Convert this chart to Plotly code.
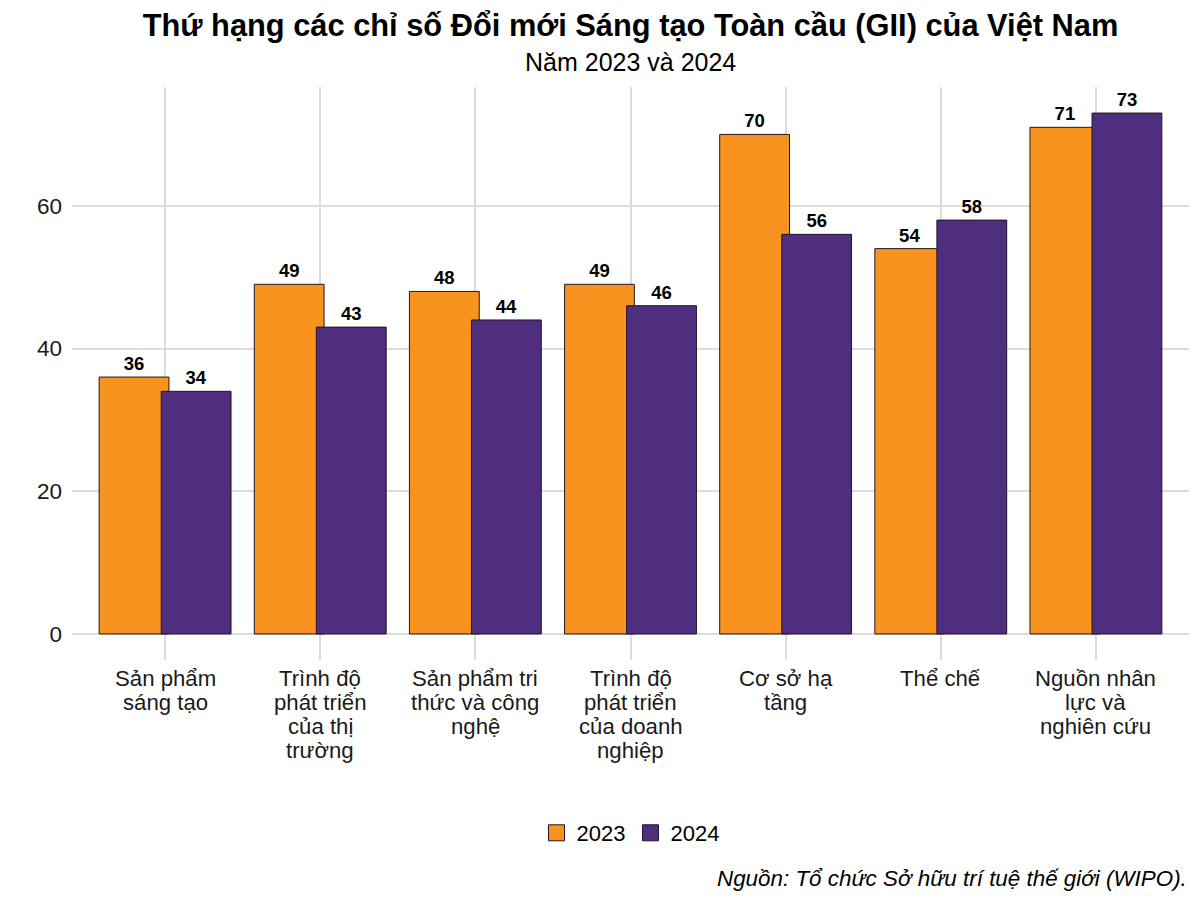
import plotly.graph_objects as go

categories = [
    "Sản phẩm sáng tạo",
    "Trình độ phát triển của thị trường",
    "Sản phẩm tri thức và công nghệ",
    "Trình độ phát triển của doanh nghiệp",
    "Cơ sở hạ tầng",
    "Thể chế",
    "Nguồn nhân lực và nghiên cứu",
]
category_lines = [
    ["Sản phẩm", "sáng tạo"],
    ["Trình độ", "phát triển", "của thị", "trường"],
    ["Sản phẩm tri", "thức và công", "nghệ"],
    ["Trình độ", "phát triển", "của doanh", "nghiệp"],
    ["Cơ sở hạ", "tầng"],
    ["Thể chế"],
    ["Nguồn nhân", "lực và", "nghiên cứu"],
]
values_2023 = [36, 49, 48, 49, 70, 54, 71]
values_2024 = [34, 43, 44, 46, 56, 58, 73]
series_names = ["2023", "2024"]
colors = ["#F7931E", "#4F2D7F"]
y_ticks = [0, 20, 40, 60]

FONT = "Liberation Sans, Arial, sans-serif"
# page body has an 8px margin, so figure coords = screen coords - 8
OFF = 8
L, R, T, B = 72 - OFF, 19, 87 - OFF, 900 - (660 - OFF)
plot_h = 900 - T - B
plot_bottom = 900 - B

fig = go.Figure()
for name, vals, col, off in zip(series_names, [values_2023, values_2024], colors, [-0.425, -0.025]):
    fig.add_trace(go.Bar(
        x=categories, y=vals, name=name, showlegend=False,
        width=0.45, offset=off,
        marker=dict(color=col, line=dict(color="#241624", width=1)),
        text=[str(v) for v in vals], textposition="outside",
        textfont=dict(family=FONT, size=18.5, color="black", weight="bold"),
        cliponaxis=False,
    ))
for name, col in zip(series_names, colors):
    fig.add_trace(go.Scatter(
        x=[None], y=[None], mode="markers", name=name,
        marker=dict(symbol="square", size=22, color=col, line=dict(color="#241624", width=1)),
    ))

annotations = [
    dict(text="Năm 2023 và 2024", x=0.5, xref="paper", xanchor="center",
         y=1 + (T - (62 - OFF)) / plot_h, yref="paper", yanchor="middle", showarrow=False,
         font=dict(size=25, color="black", family=FONT)),
    dict(text="<i>Nguồn: Tổ chức Sở hữu trí tuệ thế giới (WIPO).</i>", x=1, xref="paper",
         xanchor="right", y=-((878 - OFF) - plot_bottom) / plot_h, yref="paper", yanchor="middle",
         showarrow=False, font=dict(size=22.4, color="black", family=FONT)),
]
for cat, lines in zip(categories, category_lines):
    for i, line in enumerate(lines):
        annotations.append(dict(
            text=line, x=cat, xref="x", xanchor="center",
            y=0, yref="paper", yanchor="middle", yshift=-(18 + 24 * i),
            showarrow=False, font=dict(size=22.2, color="#1a1a1a", family=FONT),
        ))

fig.update_layout(
    width=1200, height=900,
    barmode="overlay",
    plot_bgcolor="white", paper_bgcolor="white",
    font=dict(family=FONT, color="#1a1a1a"),
    margin=dict(l=L, r=R, t=T, b=B, autoexpand=False),
    title=dict(
        text="<b>Thứ hạng các chỉ số Đổi mới Sáng tạo Toàn cầu (GII) của Việt Nam</b>",
        x=0.5, xref="paper", xanchor="center", y=1 - (25 - OFF) / 900, yanchor="middle",
        font=dict(size=30.8, color="black", family=FONT),
    ),
    showlegend=True,
    legend=dict(orientation="h", x=0.5, xanchor="center",
                y=-((833 - OFF) - plot_bottom) / plot_h,
                yanchor="middle", font=dict(size=22, color="black", family=FONT),
                traceorder="normal", itemwidth=30),
    annotations=annotations,
)

fig.update_xaxes(
    range=[-0.6, 6.6], showgrid=True, gridcolor="#dcdcdc", gridwidth=1.5,
    ticks="", showticklabels=False, zeroline=False, showline=False, automargin=False,
)
fig.update_yaxes(
    range=[-3.65, 76.65], tickvals=y_ticks, showgrid=True, gridcolor="#dcdcdc", gridwidth=1.5,
    ticks="", tickfont=dict(size=22.5, color="#1a1a1a", family=FONT),
    zeroline=False, showline=False, ticklabelstandoff=9, automargin=False,
)

fig.write_html("out.html")
